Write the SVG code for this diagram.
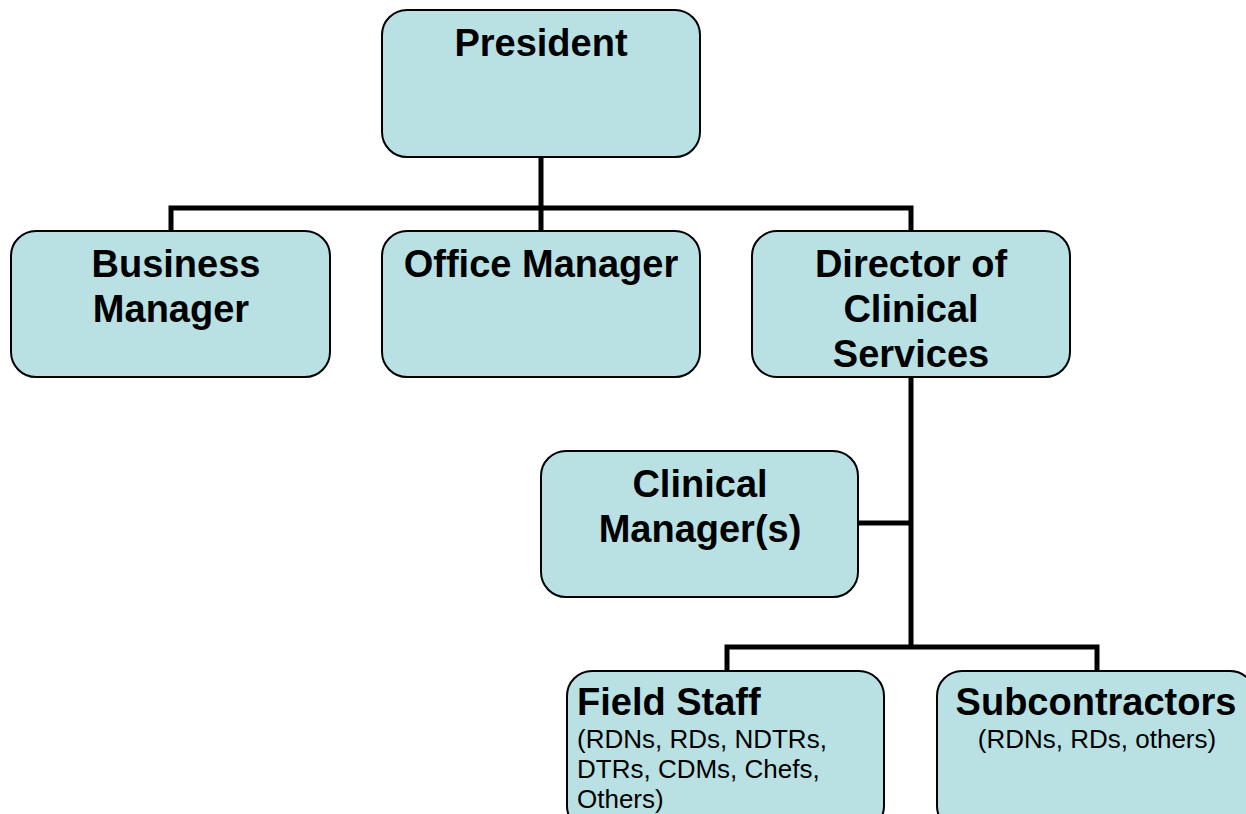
<svg xmlns="http://www.w3.org/2000/svg" width="1246" height="814" viewBox="0 0 1246 814">
<style>
.box{fill:#b9e0e3;stroke:#000;stroke-width:2}
.t{font-family:"Liberation Sans",Arial,sans-serif;font-weight:bold;font-size:38px;fill:#000;text-anchor:middle}
.s{font-family:"Liberation Sans",Arial,sans-serif;font-size:26px;fill:#000}
.c{fill:none;stroke:#000;stroke-width:5}
</style>
<rect width="1246" height="814" fill="#fff"/>
<g id="connectors">
<path class="c" d="M541 157V208M171 231V208H911V231M541 208V231"/>
<path class="c" d="M911 377V647M858 523H911M727 672V647H1097V672"/>
</g>
<g id="president"><rect class="box" x="382" y="10" width="318" height="147" rx="25"/><text class="t" x="541" y="56">President</text></g>
<g id="business"><rect class="box" x="11" y="231" width="319" height="146" rx="25"/><text class="t" x="176" y="277">Business</text><text class="t" x="171" y="322">Manager</text></g>
<g id="office"><rect class="box" x="382" y="231" width="318" height="146" rx="25"/><text class="t" x="541" y="277">Office Manager</text></g>
<g id="director"><rect class="box" x="752" y="231" width="318" height="146" rx="25"/><text class="t" x="911" y="277">Director of</text><text class="t" x="911" y="322">Clinical</text><text class="t" x="911" y="367">Services</text></g>
<g id="clinical"><rect class="box" x="541" y="451" width="317" height="146" rx="25"/><text class="t" x="700" y="497">Clinical</text><text class="t" x="700" y="542">Manager(s)</text></g>
<g id="field"><rect class="box" x="567" y="671" width="317" height="160" rx="25"/><text class="t" x="577" y="715" style="text-anchor:start">Field Staff</text><text class="s" x="577" y="748">(RDNs, RDs, NDTRs,</text><text class="s" x="577" y="778">DTRs, CDMs, Chefs,</text><text class="s" x="577" y="808">Others)</text></g>
<g id="sub"><rect class="box" x="937" y="671" width="318" height="160" rx="25"/><text class="t" x="1096" y="715">Subcontractors</text><text class="s" x="1097" y="748" style="text-anchor:middle">(RDNs, RDs, others)</text></g>
</svg>
